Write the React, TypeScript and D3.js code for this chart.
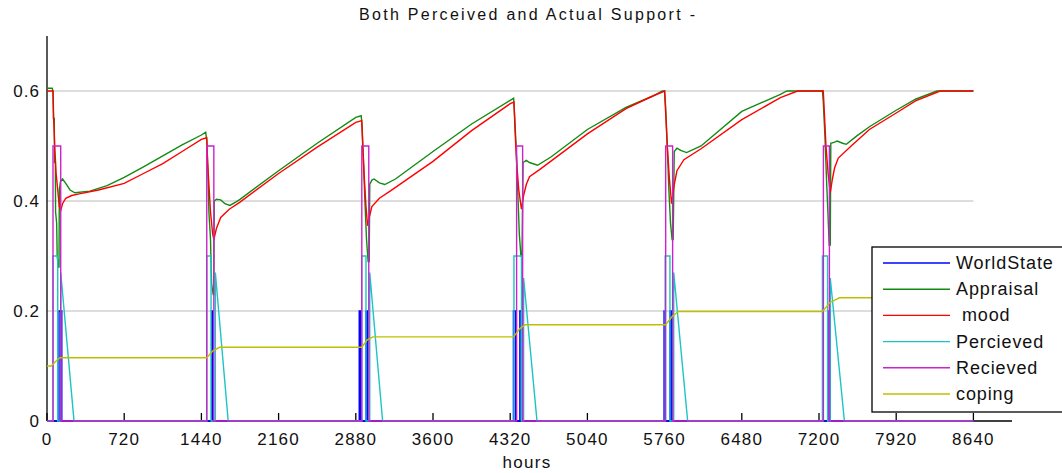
import React from "react";
import * as d3 from "d3";

type P = [number, number];

const title = "Both Perceived and Actual Support -";
const xLabel = "hours";
const xTicks = [0, 720, 1440, 2160, 2880, 3600, 4320, 5040, 5760, 6480, 7200, 7920, 8640];
const yTicks = [0, 0.2, 0.4, 0.6];
const yTickLabels = ["0", "0.2", "0.4", "0.6"];

const worldState: P[] = [
  [0, 0], [112, 0], [112, 0.2], [138, 0.2], [138, 0],
  [1535, 0], [1535, 0.2], [1548, 0.2], [1548, 0],
  [2912, 0], [2912, 0.2], [2922, 0.2], [2922, 0], [2975, 0], [2975, 0.2], [2987, 0.2], [2987, 0],
  [4350, 0], [4350, 0.2], [4368, 0.2], [4368, 0], [4410, 0], [4410, 0.2], [4425, 0.2], [4425, 0],
  [5755, 0], [5755, 0.2], [5765, 0.2], [5765, 0], [5810, 0], [5810, 0.2], [5822, 0.2], [5822, 0],
  [7293, 0], [7293, 0.2], [7305, 0.2], [7305, 0], [8640, 0],
];

const appraisal: P[] = [
  [0, 0.605], [48, 0.605], [56, 0.6], [60, 0.55], [68, 0.55], [70, 0.47], [78, 0.47], [80, 0.38], [90, 0.36], [95, 0.3], [105, 0.28], [112, 0.28], [115, 0.42], [125, 0.435], [145, 0.44], [175, 0.432], [215, 0.42], [260, 0.415], [400, 0.418], [560, 0.428], [720, 0.443], [900, 0.462], [1080, 0.482], [1260, 0.502], [1440, 0.52], [1480, 0.525],
  [1490, 0.51], [1500, 0.46], [1510, 0.38], [1525, 0.33], [1535, 0.25], [1550, 0.23], [1555, 0.23], [1560, 0.4], [1580, 0.403], [1620, 0.402], [1660, 0.395], [1705, 0.392], [1760, 0.398], [1800, 0.403], [2160, 0.455], [2520, 0.505], [2880, 0.552], [2930, 0.555],
  [2938, 0.54], [2950, 0.48], [2965, 0.4], [2980, 0.33], [2995, 0.29], [3005, 0.29], [3010, 0.43], [3030, 0.438], [3050, 0.44], [3100, 0.433], [3150, 0.43], [3250, 0.44], [3600, 0.49], [3960, 0.54], [4320, 0.583], [4352, 0.587],
  [4360, 0.56], [4375, 0.5], [4390, 0.42], [4405, 0.34], [4420, 0.3], [4430, 0.3], [4440, 0.47], [4470, 0.474], [4500, 0.47], [4575, 0.465], [4700, 0.48], [5040, 0.53], [5400, 0.57], [5640, 0.59], [5740, 0.6], [5760, 0.6],
  [5770, 0.57], [5785, 0.5], [5800, 0.42], [5815, 0.36], [5830, 0.33], [5840, 0.33], [5850, 0.49], [5875, 0.496], [5910, 0.492], [5965, 0.488], [6100, 0.5], [6480, 0.563], [6840, 0.594], [6900, 0.6], [7232, 0.6],
  [7240, 0.58], [7255, 0.52], [7270, 0.44], [7285, 0.37], [7295, 0.32], [7305, 0.32], [7310, 0.505], [7345, 0.507], [7370, 0.509], [7420, 0.505], [7455, 0.503], [7550, 0.518], [7670, 0.535], [7920, 0.565], [8100, 0.585], [8300, 0.6], [8640, 0.6],
];

const mood: P[] = [
  [0, 0.6], [56, 0.6], [62, 0.55], [72, 0.5], [85, 0.45], [100, 0.42], [115, 0.39], [128, 0.383], [145, 0.395], [175, 0.405], [230, 0.41], [300, 0.413], [480, 0.42], [720, 0.432], [900, 0.45], [1080, 0.468], [1260, 0.49], [1440, 0.512], [1490, 0.515],
  [1498, 0.47], [1510, 0.43], [1525, 0.38], [1545, 0.34], [1556, 0.33], [1580, 0.35], [1620, 0.37], [1700, 0.385], [1800, 0.398], [2160, 0.45], [2520, 0.498], [2880, 0.543], [2935, 0.546],
  [2945, 0.5], [2960, 0.44], [2975, 0.39], [2990, 0.355], [3005, 0.37], [3030, 0.39], [3100, 0.405], [3200, 0.418], [3600, 0.472], [3960, 0.528], [4320, 0.577], [4355, 0.58],
  [4365, 0.53], [4380, 0.47], [4400, 0.42], [4425, 0.385], [4445, 0.41], [4470, 0.43], [4500, 0.444], [4600, 0.458], [5040, 0.522], [5400, 0.568], [5640, 0.59], [5760, 0.6],
  [5770, 0.56], [5785, 0.5], [5805, 0.44], [5825, 0.395], [5850, 0.43], [5875, 0.455], [5940, 0.475], [6100, 0.495], [6480, 0.548], [6840, 0.588], [7000, 0.6], [7240, 0.6],
  [7250, 0.56], [7265, 0.5], [7285, 0.45], [7305, 0.415], [7325, 0.44], [7345, 0.46], [7380, 0.478], [7500, 0.5], [7670, 0.53], [7920, 0.56], [8100, 0.582], [8330, 0.6], [8640, 0.6],
];

const percieved: P[] = [
  [0, 0], [56, 0], [56, 0.3], [100, 0.3], [100, 0], [128, 0], [128, 0.27], [252, 0],
  [1490, 0], [1490, 0.3], [1530, 0.3], [1530, 0], [1570, 0], [1570, 0.27], [1690, 0],
  [2935, 0], [2935, 0.3], [2975, 0.3], [2975, 0], [3010, 0], [3010, 0.27], [3130, 0],
  [4355, 0], [4355, 0.3], [4425, 0.3], [4425, 0], [4445, 0], [4445, 0.26], [4570, 0],
  [5765, 0], [5765, 0.3], [5810, 0.3], [5810, 0], [5845, 0], [5845, 0.27], [5975, 0],
  [7232, 0], [7232, 0.3], [7280, 0.3], [7280, 0], [7305, 0], [7305, 0.26], [7437, 0], [8640, 0],
];

const recieved: P[] = [
  [0, 0], [56, 0], [56, 0.5], [128, 0.5], [128, 0],
  [1490, 0], [1490, 0.5], [1556, 0.5], [1556, 0],
  [2936, 0], [2936, 0.5], [3001, 0.5], [3001, 0],
  [4380, 0], [4380, 0.5], [4436, 0.5], [4436, 0],
  [5770, 0], [5770, 0.5], [5835, 0.5], [5835, 0],
  [7241, 0], [7241, 0.5], [7297, 0.5], [7297, 0], [8640, 0],
];

const coping: P[] = [
  [0, 0.1], [40, 0.1], [80, 0.108], [120, 0.115], [1490, 0.115], [1550, 0.128], [1610, 0.134],
  [2935, 0.134], [2990, 0.148], [3040, 0.153], [4352, 0.153], [4410, 0.168], [4460, 0.175],
  [5770, 0.175], [5830, 0.19], [5890, 0.199], [7232, 0.199], [7300, 0.215], [7390, 0.224], [8640, 0.224],
];

const seriesNames = ["WorldState", "Appraisal", " mood", "Percieved", "Recieved", "coping"];
const seriesColors = ["#0000ff", "#138a13", "#ff0000", "#1cc4c4", "#cc22cc", "#bfbf00"];
const seriesData = [worldState, appraisal, mood, percieved, recieved, coping];

export default function App() {
  const W = 1062, H = 473;
  const x = d3.scaleLinear().domain([0, 9000]).range([47, 1012]);
  const y = d3.scaleLinear().domain([0, 0.7]).range([421, 36]);
  const line = d3.line<P>().x((d) => x(d[0])).y((d) => y(d[1]));
  const font = "'Liberation Sans', Arial, sans-serif";

  return (
    <svg width={W} height={H} style={{ position: "absolute", left: 0, top: 0, background: "#fff" }} fontFamily={font}>
      <rect x={0} y={0} width={W} height={H} fill="#fff" />
      <text x={527} y={20} textAnchor="middle" fontSize={16} textLength={336} lengthAdjust="spacing" fill="#111">{title}</text>
      {yTicks.filter((t) => t > 0).map((t) => (
        <line key={t} x1={x(0)} x2={x(8640)} y1={y(t)} y2={y(t)} stroke="#d2d2d2" strokeWidth={1.3} />
      ))}
      <line x1={x(0)} x2={x(9000)} y1={y(0)} y2={y(0)} stroke="#000" strokeWidth={1.3} />
      <line x1={x(0)} x2={x(0)} y1={y(0)} y2={y(0.7)} stroke="#000" strokeWidth={1.3} />
      {xTicks.map((t) => (
        <g key={t}>
          <line x1={x(t)} x2={x(t)} y1={y(0)} y2={y(0) - 8} stroke="#000" strokeWidth={1.3} />
          <text x={x(t)} y={445} textAnchor="middle" fontSize={17} letterSpacing={1.2} fill="#111">{t}</text>
        </g>
      ))}
      {yTicks.map((t, i) => (
        <text key={t} x={40} y={y(t) + 6} textAnchor="end" fontSize={17} letterSpacing={1} fill="#111">{yTickLabels[i]}</text>
      ))}
      <text x={527} y={468} textAnchor="middle" fontSize={17} letterSpacing={1.3} fill="#111">{xLabel}</text>
      {seriesData.map((d, i) => (
        <path key={i} d={line(d) || ""} fill="none" stroke={seriesColors[i]} strokeWidth={1.4} />
      ))}
      <g>
        <rect x={872} y={247} width={220} height={165} fill="#fff" stroke="#000" strokeWidth={1.3} />
        {seriesNames.map((n, i) => (
          <g key={n}>
            <line x1={883} x2={950} y1={263 + i * 26.2} y2={263 + i * 26.2} stroke={seriesColors[i]} strokeWidth={1.4} />
            <text x={956} y={263 + i * 26.2 + 6} fontSize={18} letterSpacing={0.9} fill="#111" style={{ whiteSpace: "pre" }}>{n}</text>
          </g>
        ))}
      </g>
    </svg>
  );
}
